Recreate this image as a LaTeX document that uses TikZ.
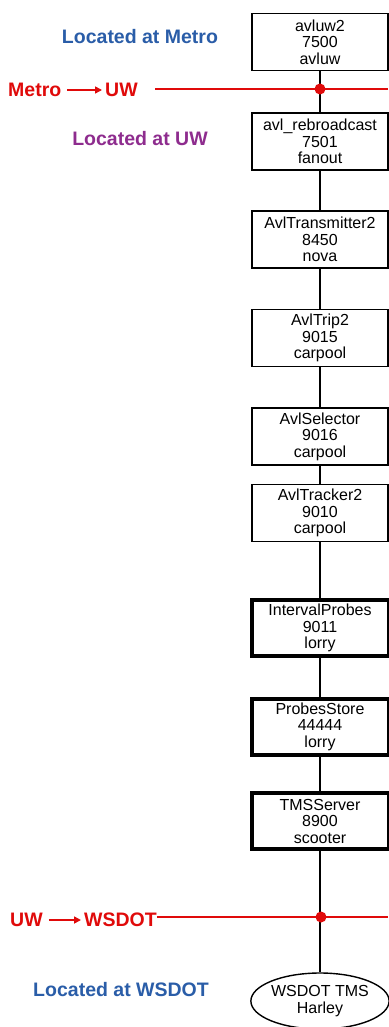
\documentclass[tikz,border=0pt]{standalone}
\usepackage{fontspec}
\setmainfont{Liberation Sans}
\usetikzlibrary{shapes.geometric,arrows.meta}
\definecolor{locblue}{HTML}{2A5DA8}
\definecolor{locpurple}{HTML}{8E2C8E}
\definecolor{netred}{HTML}{E00A0A}
\begin{document}
\begin{tikzpicture}[x=1pt,y=-1pt,
  proc/.style={draw=black,line width=1.4pt,fill=white,minimum width=136pt,minimum height=57pt,
    align=center,font=\fontsize{16}{16.5}\selectfont,inner sep=1pt},
  thickproc/.style={proc,line width=4pt,minimum width=137pt,minimum height=56pt},
  loc/.style={font=\fontsize{19.5}{22}\selectfont\bfseries},
  redlbl/.style={font=\fontsize{19.5}{22}\selectfont\bfseries,text=netred,inner sep=0pt},
  link/.style={draw=black,line width=1.4pt},
  redline/.style={draw=netred,line width=2.2pt},
  redarrow/.style={draw=netred,line width=1.6pt,shorten <=6pt,shorten >=3pt,-{Triangle[length=7pt,width=7pt]}},
  dot/.style={circle,fill=netred,inner sep=0pt,minimum size=11pt}]
\useasboundingbox (0,0) rectangle (388,1027);
\fill[white] (0,0) rectangle (388,1027);

% labels
\node[loc,text=locblue] (lmetro) at (140,37) {Located at Metro};
\node[loc,text=locpurple] (luw) at (140,139) {Located at UW};
\node[loc,text=locblue] (lwsdot) at (121,990) {Located at WSDOT};

% transfer labels
\node[redlbl,anchor=west] (metro) at (8,90) {Metro};
\node[redlbl,anchor=west] (uw1) at (105,90) {UW};
\node[redlbl,anchor=west] (uw2) at (10,920) {UW};
\node[redlbl,anchor=west] (wsdot) at (84,920) {WSDOT};

% red lines
\coordinate (r1a) at (155,89);
\coordinate (r1b) at (388,89);
\coordinate (r2a) at (wsdot.east |- 0,917);
\coordinate (r2b) at (388,917);

% boxes
\node[proc] (b1) at (320,42) {avluw2\\7500\\avluw};
\node[proc] (b2) at (320,141.5) {avl\_rebroadcast\\7501\\fanout};
\node[proc] (b3) at (320,239.5) {AvlTransmitter2\\8450\\nova};
\node[proc] (b4) at (320,338) {AvlTrip2\\9015\\carpool};
\node[proc] (b5) at (320,436.5) {AvlSelector\\9016\\carpool};
\node[proc] (b6) at (320,513) {AvlTracker2\\9010\\carpool};
\node[thickproc] (b7) at (320,628) {IntervalProbes\\9011\\lorry};
\node[thickproc] (b8) at (320,726.5) {ProbesStore\\44444\\lorry};
\node[thickproc] (b9) at (320,821) {TMSServer\\8900\\scooter};
\node[ellipse,draw=black,line width=1.4pt,fill=white,minimum width=137pt,minimum height=56pt,
  inner sep=0pt,align=center,font=\fontsize{16}{16.5}\selectfont] (ws) at (320,1001) {WSDOT TMS\\Harley};

% connectors
\path[link] (b1) -- (b2) (b2) -- (b3) (b3) -- (b4) (b4) -- (b5) (b5) -- (b6)
  (b6) -- (b7) (b7) -- (b8) (b8) -- (b9) (b9) -- (ws);

\draw[redline] (r1a) -- (r1b);
\draw[redline] (r2a) -- (r2b);
\node[dot] (d1) at (320,89) {};
\node[dot] (d2) at (321,917) {};

\draw[redarrow] (metro) -- (uw1);
\draw[redarrow] (uw2) -- (wsdot);
\end{tikzpicture}
\end{document}
